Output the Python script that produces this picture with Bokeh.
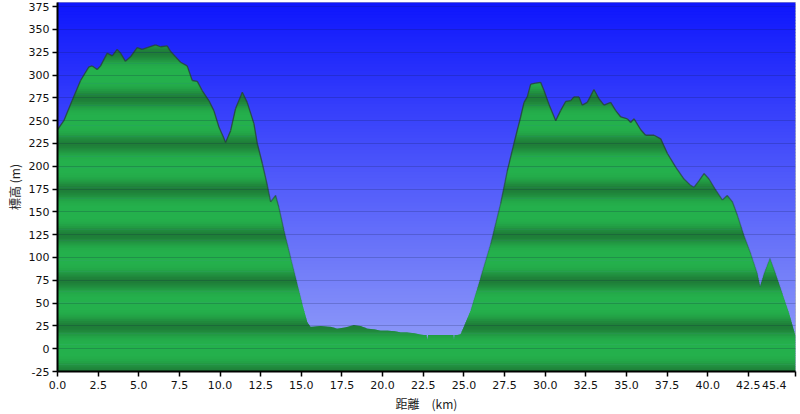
import numpy as np
from bokeh.plotting import figure
from bokeh.models import Range1d, FixedTicker, NumeralTickFormatter
from bokeh.embed import file_html
from bokeh.resources import INLINE

# ---- data ----
distance_km = [0.00, 0.39, 0.90, 1.42, 1.93, 2.14, 2.44, 2.65, 3.06, 3.37, 3.67, 3.88, 4.18, 4.49,
               4.90, 5.21, 5.52, 6.03, 6.34, 6.75, 6.95, 7.26, 7.57, 7.98, 8.29, 8.60, 8.90, 9.31,
               9.62, 9.93, 10.23, 10.34, 10.65, 10.95, 11.37, 11.67, 12.08, 12.29, 12.60, 12.91,
               13.11, 13.42, 13.62, 13.93, 14.34, 14.75, 15.06, 15.37, 15.57, 16.18, 16.80, 17.20,
               17.62, 18.23, 18.65, 19.06, 19.50, 19.88, 20.30, 20.70, 21.11, 21.50, 21.93, 22.54,
               22.70, 22.75, 22.80, 23.16, 23.98, 24.35, 24.39, 24.43, 24.60, 24.80, 25.42, 26.03,
               26.65, 27.26, 27.67, 28.08, 28.49, 28.70, 28.90, 29.11, 29.42, 29.72, 29.93, 30.23,
               30.65, 30.95, 31.26, 31.57, 31.77, 32.08, 32.28, 32.59, 33.00, 33.31, 33.62, 34.03,
               34.34, 34.65, 35.06, 35.26, 35.47, 35.88, 36.18, 36.70, 37.11, 37.52, 38.03, 38.54,
               38.95, 39.16, 39.46, 39.77, 40.08, 40.49, 40.90, 41.20, 41.52, 41.83, 42.23, 42.65,
               43.06, 43.22, 43.46, 43.83, 44.18, 44.60, 45.02, 45.40]
elevation_m = [240, 250, 272, 294, 309, 310, 306, 310, 324, 321, 328, 324, 315, 320,
               330, 328, 330, 333, 331, 332, 326, 320, 314, 310, 294, 293, 283, 272,
               261, 243, 231, 226, 239, 263, 281, 270, 247, 225, 203, 179,
               161, 168, 155, 130, 100, 71, 49, 29, 24, 25, 24, 22,
               23, 26, 25, 22, 21, 20, 20, 19, 18, 18, 17, 15,
               15, 10, 15, 15, 15, 15, 10, 15, 15, 16, 42, 78,
               115, 159, 195, 225, 254, 270, 276, 290, 291, 292, 283, 268,
               250, 261, 271, 272, 276, 276, 267, 270, 284, 274, 267, 270,
               261, 254, 252, 248, 252, 240, 234, 234, 230, 214, 199, 186,
               179, 177, 184, 192, 186, 174, 163, 168, 161, 146, 124, 104,
               82, 68, 82, 99, 82, 60, 38, 14]
x_ticks = [0, 2.5, 5, 7.5, 10, 12.5, 15, 17.5, 20, 22.5, 25, 27.5, 30, 32.5, 35, 37.5, 40, 42.5, 45.4]
y_ticks = list(range(-25, 376, 25))
x_title = "距離　(km)"
y_title = "標高 (m)"
last_tick_label = "45.4"

km = np.array(distance_km, dtype=float)
el = np.array(elevation_m, dtype=float)
X0, X1 = 0.0, 45.4
Y0, Y1 = -25.0, 379.5

p = figure(width=800, height=414, output_backend="svg", toolbar_location=None,
           x_range=Range1d(X0, X1), y_range=Range1d(Y0, Y1),
           min_border_left=57, min_border_right=5, min_border_top=2, min_border_bottom=43,
           background_fill_color="#6070fa", border_fill_color="white")
p.outline_line_color = "#b8b8b8"


def hexc(c):
    return "#%02x%02x%02x" % tuple(int(round(v)) for v in c)


# ---- blue sky gradient (background) ----
n_sky = 120
edges = np.linspace(Y0, Y1, n_sky + 1)
top_c = np.array([14, 22, 252])
bot_c = np.array([152, 164, 248])
sky_cols = []
for i in range(n_sky):
    yc = 0.5 * (edges[i] + edges[i + 1])
    t = (Y1 - yc) / (Y1 - Y0)
    sky_cols.append(hexc(top_c + (bot_c - top_c) * t))
ov = (Y1 - Y0) / n_sky * 0.4
p.quad(left=X0, right=X1, bottom=edges[:-1], top=edges[1:] + ov, fill_color=sky_cols, line_color=None)

# ---- green banded area under the profile ----
light = np.array([36, 176, 76])
dark = np.array([31, 126, 56])


def green_at(yc):
    ph = (yc % 50.0) / 50.0
    f = ((1 - np.cos(2 * np.pi * ph)) / 2) ** 2.4
    return hexc(light + (dark - light) * f)


def slab(lo, hi):
    xs = [km]
    for lev in (lo, hi):
        d = el - lev
        idx = np.where(d[:-1] * d[1:] < 0)[0]
        t = d[idx] / (d[idx] - d[idx + 1])
        xs.append(km[idx] + t * (km[idx + 1] - km[idx]))
    xx = np.unique(np.concatenate(xs))
    yy = np.interp(xx, km, el)
    return xx, np.clip(yy, lo, hi)


step = 2.0
g_ov = 0.7
lev = Y0
while lev < el.max():
    lo = lev - g_ov if lev > Y0 else lev
    hi = min(lev + step, el.max())
    xx, up = slab(lo, hi)
    p.varea(x=xx, y1=np.full_like(xx, lo), y2=up, fill_color=green_at(lev + step / 2))
    lev += step

# ---- outline of the profile (fades on light background) ----
mid = 0.5 * (el[:-1] + el[1:])
alphas = np.clip((mid - 40) / 180, 0, 1) * 0.85
p.segment(x0=km[:-1], y0=el[:-1], x1=km[1:], y1=el[1:], line_color="#27453a",
          line_alpha=alphas, line_width=1.3)

# ---- grid ----
p.xgrid.visible = False
p.ygrid.ticker = FixedTicker(ticks=y_ticks)
p.ygrid.grid_line_color = "#101840"
p.ygrid.grid_line_alpha = 0.2
p.ygrid.level = "overlay"

# ---- axes ----
p.xaxis.ticker = FixedTicker(ticks=x_ticks)
p.xaxis.formatter = NumeralTickFormatter(format="0.0")
# last label sits to the left of its tick (non-breaking spaces keep it inside the page)
p.xaxis.major_label_overrides = {45.4: last_tick_label + "\u00a0" * 4}
p.yaxis.ticker = FixedTicker(ticks=y_ticks)
p.yaxis.formatter = NumeralTickFormatter(format="0")
for ax in (p.xaxis[0], p.yaxis[0]):
    ax.axis_line_color = "black"
    ax.axis_line_width = 2
    ax.major_tick_line_color = "black"
    ax.major_tick_line_width = 1.5
    ax.major_tick_out = 5
    ax.major_tick_in = 0
    ax.minor_tick_line_color = None
    ax.major_label_text_font = "DejaVu Sans"
    ax.major_label_text_font_size = "11px"
    ax.major_label_text_color = "#111111"
    ax.axis_label_text_font = "Noto Sans CJK JP"
    ax.axis_label_text_font_size = "12px"
    ax.axis_label_text_font_style = "normal"
    ax.axis_label_text_color = "#222222"
p.xaxis.axis_label = x_title
p.yaxis.axis_label = y_title
p.xaxis.major_label_standoff = 2
p.yaxis.major_label_standoff = 3
p.xaxis.axis_label_standoff = 0
p.yaxis.axis_label_standoff = 3

open("out.html", "w").write(file_html(p, INLINE))
